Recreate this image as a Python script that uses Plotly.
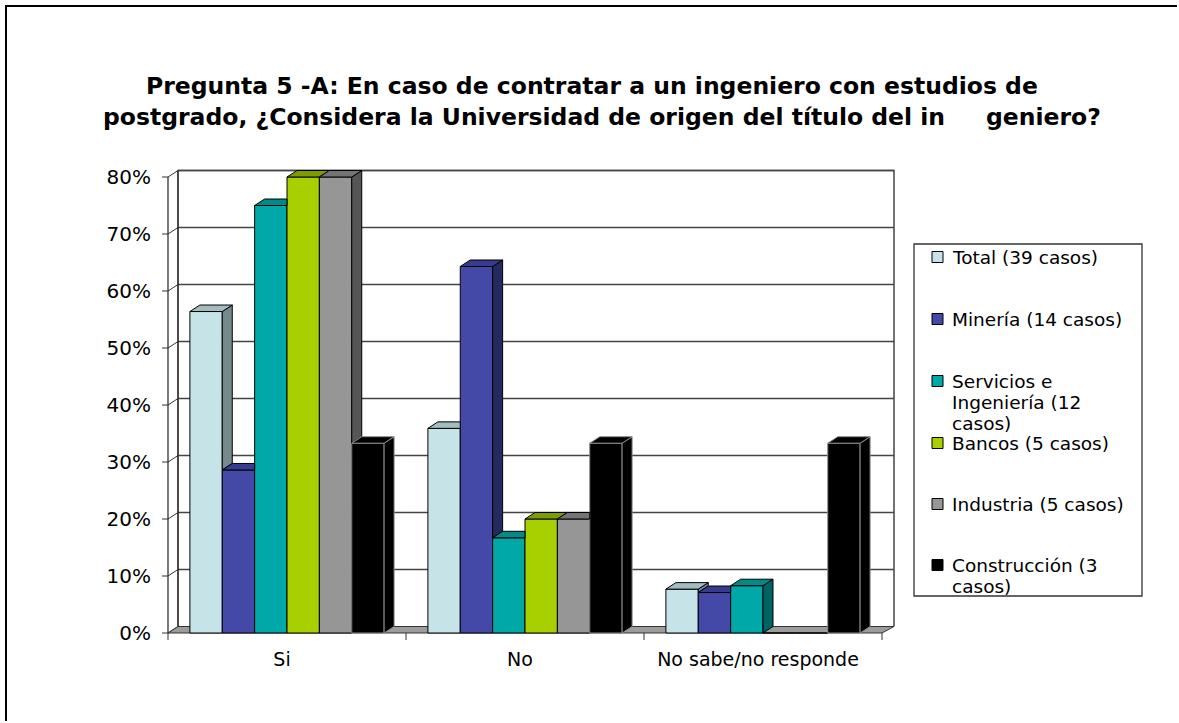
import plotly.graph_objects as go

# ---- data (percent of cases) ----
categories = ["Si", "No", "No sabe/no responde"]
series_names = ["Total (39 casos)", "Minería (14 casos)", "Servicios e Ingeniería (12 casos)",
                "Bancos (5 casos)", "Industria (5 casos)", "Construcción (3 casos)"]
legend_lines = [["Total (39 casos)"], ["Minería (14 casos)"], ["Servicios e", "Ingeniería (12", "casos)"],
                ["Bancos (5 casos)"], ["Industria (5 casos)"], ["Construcción (3", "casos)"]]
total = [56.4, 35.9, 7.7]
mineria = [28.6, 64.3, 7.1]
servicios = [75.0, 16.7, 8.3]
bancos = [80.0, 20.0, 0.0]
industria = [80.0, 20.0, 0.0]
construccion = [33.3, 33.3, 33.3]
y_ticks = [0, 10, 20, 30, 40, 50, 60, 70, 80]
y_ticktext = [f"{t}%" for t in y_ticks]
title_lines = ["Pregunta 5 -A: En caso de contratar a un ingeniero con estudios de",
               "postgrado, ¿Considera la Universidad de origen del título del in\u00a0\u00a0\u00a0\u00a0\u00a0geniero?"]

series_values = [total, mineria, servicios, bancos, industria, construccion]

# ---- styling: front / top / side colours and edge colour per series ----
styles = [
    dict(front="#C6E4E8", top="#A3BCBF", side="#748A8C", edge="#000000"),
    dict(front="#4449A8", top="#363B90", side="#242960", edge="#000000"),
    dict(front="#00A8A8", top="#008A8A", side="#006464", edge="#000000"),
    dict(front="#A8D000", top="#7E9C00", side="#5E7500", edge="#000000"),
    dict(front="#969696", top="#747474", side="#555555", edge="#000000"),
    dict(front="#000000", top="#000000", side="#000000", edge="#8C8C8C"),
]

FONT = "DejaVu Sans, Verdana, sans-serif"

# ---- pixel geometry (paper covers the whole page) ----
W, H = 1179, 723
PLOT_L, PLOT_R, PLOT_T, PLOT_B = 158, 898, 166, 642
FRONT_X0 = 168          # pixel of the front-left corner (category edge -0.5)
CAT_PX = 238.0          # pixels per category
ZERO_Y = 633            # pixel of 0 %
PCT_PX = 5.7            # pixels per percent

x_range = [-0.5 - (FRONT_X0 - PLOT_L) / CAT_PX, -0.5 + (PLOT_R - FRONT_X0) / CAT_PX]
y_range = [-(PLOT_B - ZERO_Y) / PCT_PX, (ZERO_Y - PLOT_T) / PCT_PX]

DX = 10 / CAT_PX        # depth offset, x units
DY = 6.5 / PCT_PX       # depth offset, y units
DXR = 12 / CAT_PX       # depth offset at the right end of the wall
BW = 0.136              # bar width in category units
n_series = len(series_values)


def px_x(p):
    return p / W


def px_y(p):
    return 1 - p / H


fig = go.Figure()

# front faces of the columns
for j, vals in enumerate(series_values):
    st = styles[j]
    xs = [i + (j - (n_series - 1) / 2) * BW for i in range(len(categories))]
    fig.add_trace(go.Bar(
        x=xs, y=vals, width=BW, name=series_names[j],
        marker=dict(color=st["front"], line=dict(color=st["edge"], width=1)),
        showlegend=False, hovertemplate="%{y:.1f}%<extra>" + series_names[j] + "</extra>",
    ))

# top and side faces (only the parts not hidden by the next column)
for j, vals in enumerate(series_values):
    st = styles[j]
    top_x, top_y, side_x, side_y = [], [], [], []
    for i, v in enumerate(vals):
        if v <= 0:
            continue
        x0 = i + (j - n_series / 2) * BW
        x1 = x0 + BW
        vn = series_values[j + 1][i] if j + 1 < n_series else 0.0
        # top face
        px_, py_ = [x0, x1], [v, v]
        if vn <= v:
            px_ += [x1 + DX, x0 + DX]
            py_ += [v + DY, v + DY]
        elif vn >= v + DY:
            px_ += [x1, x0 + DX]
            py_ += [v + DY, v + DY]
        else:
            t = (vn - v) / DY
            px_ += [x1, x1 + t * DX, x1 + DX, x0 + DX]
            py_ += [vn, vn, v + DY, v + DY]
        top_x += px_ + [px_[0], None]
        top_y += py_ + [py_[0], None]
        # side face
        if vn < v:
            b = max(vn, 0.0)
            sx = [x1, x1, x1 + DX, x1 + DX, x1]
            sy = [b, v, v + DY, b + DY, b]
            side_x += sx + [None]
            side_y += sy + [None]
    if side_x:
        fig.add_trace(go.Scatter(x=side_x, y=side_y, mode="lines", fill="toself",
                                 fillcolor=st["side"], line=dict(color=st["edge"], width=1),
                                 showlegend=False, hoverinfo="skip"))
    if top_x:
        fig.add_trace(go.Scatter(x=top_x, y=top_y, mode="lines", fill="toself",
                                 fillcolor=st["top"], line=dict(color=st["edge"], width=1),
                                 showlegend=False, hoverinfo="skip"))

shapes = []
ymax = y_ticks[-1]
xl, xr = -0.5, len(categories) - 0.5

# back wall
shapes.append(dict(type="path", layer="below",
                   path=f"M{xl + DX},{DY} L{xl + DX},{ymax + DY} L{xr + DXR},{ymax + DY} L{xr + DXR},{DY}",
                   line=dict(color="#444444", width=1.5), fillcolor="white"))
# gridlines on the back wall and the left wall
for t in y_ticks[1:]:
    shapes.append(dict(type="line", layer="below", x0=xl + DX, x1=xr + DXR, y0=t + DY, y1=t + DY,
                       line=dict(color="#444444", width=1.3)))
for t in y_ticks:
    shapes.append(dict(type="line", layer="below", x0=xl, x1=xl + DX, y0=t, y1=t + DY,
                       line=dict(color="#333333", width=1)))
    # tick marks
    shapes.append(dict(type="line", layer="below", x0=xl - 6 / CAT_PX, x1=xl, y0=t, y1=t,
                       line=dict(color="#333333", width=1)))
# left wall verticals
shapes.append(dict(type="line", layer="below", x0=xl, x1=xl, y0=0, y1=ymax,
                   line=dict(color="#222222", width=1.2)))
shapes.append(dict(type="line", layer="below", x0=xl + DX, x1=xl + DX, y0=DY, y1=ymax + DY,
                   line=dict(color="#222222", width=1)))
# floor
shapes.append(dict(type="path", layer="below",
                   path=f"M{xl},0 L{xr},0 L{xr + DXR},{DY} L{xl + DX},{DY} Z",
                   line=dict(color="#333333", width=1), fillcolor="#9C9C9C"))
# category separators on the front axis
for k in range(len(categories) + 1):
    xk = xl + k
    shapes.append(dict(type="line", layer="below", x0=xk, x1=xk, y0=0, y1=-7 / PCT_PX,
                       line=dict(color="#333333", width=1)))

# outer frame along the left and top edges
frame_path = f"M{px_x(6)},{px_y(H - 2)} L{px_x(6)},{px_y(6)} L{px_x(W - 2)},{px_y(6)}"
shapes.append(dict(type="path", xref="paper", yref="paper", path=frame_path,
                   line=dict(color="black", width=2)))

# legend box, swatches and labels
LEG_L, LEG_R, LEG_T, LEG_B = 914, 1142, 244, 596
shapes.append(dict(type="rect", xref="paper", yref="paper",
                   x0=px_x(LEG_L), x1=px_x(LEG_R), y0=px_y(LEG_T), y1=px_y(LEG_B),
                   line=dict(color="#333333", width=1.3), fillcolor="white"))
item_y = [257, 319, 381, 443, 504, 565]
LINE_GAP = 21
annotations = []
for j, yc in enumerate(item_y):
    shapes.append(dict(type="rect", xref="paper", yref="paper",
                       x0=px_x(932), x1=px_x(943), y0=px_y(yc - 5.5), y1=px_y(yc + 5.5),
                       line=dict(color="#000000", width=1), fillcolor=styles[j]["front"]))
    for k, line in enumerate(legend_lines[j]):
        annotations.append(dict(xref="paper", yref="paper", x=px_x(951), y=px_y(yc + k * LINE_GAP),
                                xanchor="left", yanchor="middle", align="left", showarrow=False,
                                borderpad=0, text=line,
                                font=dict(family=FONT, size=18.5, color="black")))

# two-line title
for k, (line, cx, cy) in enumerate(zip(title_lines, [592, 602], [86, 117])):
    annotations.append(dict(xref="paper", yref="paper", x=px_x(cx), y=px_y(cy),
                            xanchor="center", yanchor="middle", showarrow=False, borderpad=0,
                            text="<b>" + line + "</b>",
                            font=dict(family=FONT, size=23.5, color="black")))

fig.update_layout(
    width=W, height=H, autosize=False,
    margin=dict(l=0, r=0, t=0, b=0, pad=0),
    paper_bgcolor="white", plot_bgcolor="white",
    barmode="overlay", showlegend=False,
    shapes=shapes, annotations=annotations,
    xaxis=dict(domain=[PLOT_L / W, PLOT_R / W], range=x_range, tickmode="array",
               tickvals=list(range(len(categories))), ticktext=categories,
               showgrid=False, zeroline=False, showline=False, ticks="",
               tickfont=dict(family=FONT, size=19, color="black"), ticklabelstandoff=4,
               ticklabelshift=-5, fixedrange=True, automargin=False),
    yaxis=dict(domain=[1 - PLOT_B / H, 1 - PLOT_T / H], range=y_range, tickmode="array",
               tickvals=y_ticks, ticktext=y_ticktext,
               showgrid=False, zeroline=False, showline=False, ticks="",
               tickfont=dict(family=FONT, size=20, color="black"), ticklabelstandoff=6,
               fixedrange=True, automargin=False),
    font=dict(family=FONT),
)

fig.write_html("out.html")
